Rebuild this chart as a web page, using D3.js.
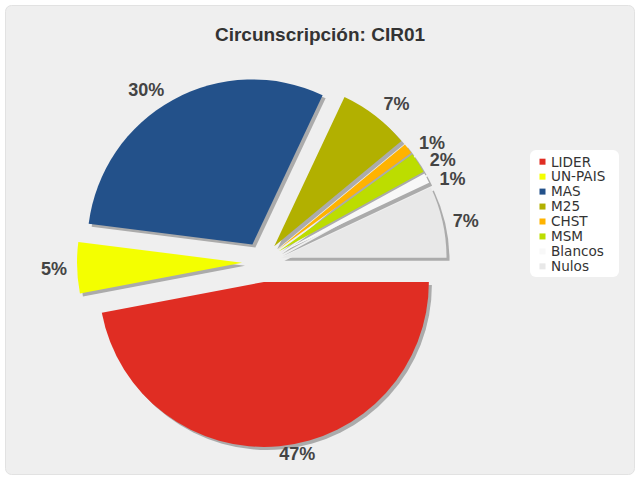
<!DOCTYPE html>
<html>
<head>
<meta charset="utf-8">
<script src="https://cdn.jsdelivr.net/npm/d3@7"></script>
<style>
  html, body { margin: 0; padding: 0; background: #ffffff; }
  svg { display: block; }
</style>
</head>
<body>
<svg id="chart" width="640" height="480"></svg>
<script>
// ---- data ----
const categories = ["LIDER", "UN-PAIS", "MAS", "M25", "CHST", "MSM", "Blancos", "Nulos"];
const values = [47, 5, 30, 7, 1, 2, 1, 7];
const titleText = "Circunscripción: CIR01";

// ---- style ----
const colors = ["#e02d23", "#f4ff00", "#23518a", "#b2b000", "#ffb300", "#bcdd00", "#f8f8f8", "#e8e8e8"];
const W = 640, H = 480;
const cx = 262, cy = 262, R = 165, explode = 20;
const labelR = 208;
// small per-label placement tweaks (degrees, px)
const labelAngleNudge = [-5, 0, -5, 2.5, 2.6, 2.8, 3.3, 1];
const labelRadiusNudge = [-13, 0, 0, 0, 0, 0, 0, 0];

const svg = d3.select("#chart");

// frame
svg.append("rect")
  .attr("x", 5.5).attr("y", 5.5).attr("width", 629).attr("height", 469)
  .attr("rx", 6).attr("ry", 6)
  .attr("fill", "#efefef").attr("stroke", "#e2e2e2").attr("stroke-width", 1);

// title
svg.append("text")
  .attr("x", 320).attr("y", 41)
  .attr("text-anchor", "middle")
  .attr("font-family", "'Liberation Sans', Arial, sans-serif")
  .attr("font-weight", "bold")
  .attr("font-size", 19)
  .attr("fill", "#333333")
  .text(titleText);

const pieData = categories.map((c, i) => ({ name: c, value: values[i], color: colors[i] }));
const pie = d3.pie().sort(null).value(d => d.value)
  .startAngle(Math.PI / 2).endAngle(Math.PI / 2 + 2 * Math.PI);
const arcs = pie(pieData);
const arcGen = d3.arc().innerRadius(0).outerRadius(R);

const offsetOf = a => {
  const m = (a.startAngle + a.endAngle) / 2;
  return [cx + explode * Math.sin(m), cy - explode * Math.cos(m)];
};

const g = svg.append("g");
// shadows
g.selectAll("path.shadow").data(arcs).enter().append("path")
  .attr("class", "shadow")
  .attr("transform", d => { const o = offsetOf(d); return `translate(${o[0] + 3},${o[1] + 3})`; })
  .attr("d", arcGen)
  .attr("fill", "#ababab");
// slices
g.selectAll("path.slice").data(arcs).enter().append("path")
  .attr("class", "slice")
  .attr("transform", d => { const o = offsetOf(d); return `translate(${o[0]},${o[1]})`; })
  .attr("d", arcGen)
  .attr("fill", d => d.data.color);

// labels
const total = d3.sum(values);
svg.append("g").selectAll("text").data(arcs).enter().append("text")
  .attr("x", (d, i) => {
    const m = (d.startAngle + d.endAngle) / 2 + labelAngleNudge[i] * Math.PI / 180;
    return cx + (labelR + labelRadiusNudge[i]) * Math.sin(m);
  })
  .attr("y", (d, i) => {
    const m = (d.startAngle + d.endAngle) / 2 + labelAngleNudge[i] * Math.PI / 180;
    return cy - (labelR + labelRadiusNudge[i]) * Math.cos(m);
  })
  .attr("dy", "0.36em")
  .attr("text-anchor", "middle")
  .attr("font-family", "'Liberation Sans', Arial, sans-serif")
  .attr("font-weight", "bold")
  .attr("font-size", 18)
  .attr("fill", "#444444")
  .text(d => Math.round(d.data.value / total * 100) + "%");

// legend
const lg = svg.append("g");
lg.append("rect")
  .attr("x", 530).attr("y", 150).attr("width", 89).attr("height", 127)
  .attr("rx", 6).attr("ry", 6)
  .attr("fill", "#ffffff");
const items = lg.selectAll("g.item").data(pieData).enter().append("g")
  .attr("class", "item")
  .attr("transform", (d, i) => `translate(0,${161.7 + i * 14.95})`);
items.append("rect")
  .attr("x", 539.5).attr("y", -3).attr("width", 6).attr("height", 6)
  .attr("fill", d => d.color);
items.append("text")
  .attr("x", 551).attr("y", 4.8)
  .attr("font-family", "'DejaVu Sans', Verdana, sans-serif")
  .attr("font-size", 13.6)
  .attr("fill", "#333333")
  .text(d => d.name);
</script>
</body>
</html>
